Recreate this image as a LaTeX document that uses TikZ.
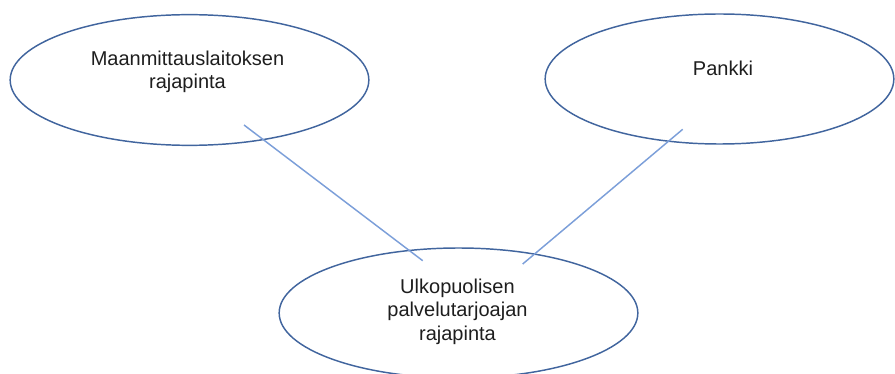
\documentclass[tikz,border=0pt]{standalone}
\usepackage{fontspec}
\setmainfont{Liberation Sans}
\usetikzlibrary{shapes.geometric}
\definecolor{ovalblue}{HTML}{41659E}
\definecolor{linkblue}{HTML}{7C9FD9}
\definecolor{textgrey}{HTML}{1E1E1E}

\begin{document}
\begin{tikzpicture}[x=0.75pt,y=-0.75pt,
    oval/.style={ellipse,draw=ovalblue,line width=1.1pt,minimum width=269pt,minimum height=98pt,inner sep=0pt},
    label text/.style={align=center,text=textgrey,inner sep=0pt,font=\fontsize{15pt}{17.5pt}\selectfont},
    link/.style={draw=linkblue,line width=1.1pt}]
      \useasboundingbox (0,0) rectangle (895,374);
      \clip (0,0) rectangle (895,374);
      % the three interfaces
      \node[oval] (mml) at (189.5,80) {};
      \node[oval,minimum width=261.5pt,minimum height=97.5pt] (pankki) at (719.5,79) {};
      \node[oval,minimum height=97.5pt] (ulko) at (458.5,313) {};
      \node[label text] (mml-text) at (187.5,71.5) {Maanmittauslaitoksen\\rajapinta};
      \node[label text] (pankki-text) at (723,68) {Pankki};
      \node[label text] (ulko-text) at (457.5,311.5) {Ulkopuolisen\\palvelutarjoajan\\rajapinta};
      % connectors
      \coordinate (mml-end) at ([shift={(54.5,45)}]mml.center);
      \coordinate (pankki-end) at ([shift={(-36.8,50.3)}]pankki.center);
      \coordinate (ulko-left) at ([shift={(-35.8,-52.3)}]ulko.center);
      \coordinate (ulko-right) at ([shift={(64.2,-49)}]ulko.center);
      \draw[link]
        (mml-end) -- (ulko-left)
        (pankki-end) -- (ulko-right);
    \end{tikzpicture}
\end{document}
